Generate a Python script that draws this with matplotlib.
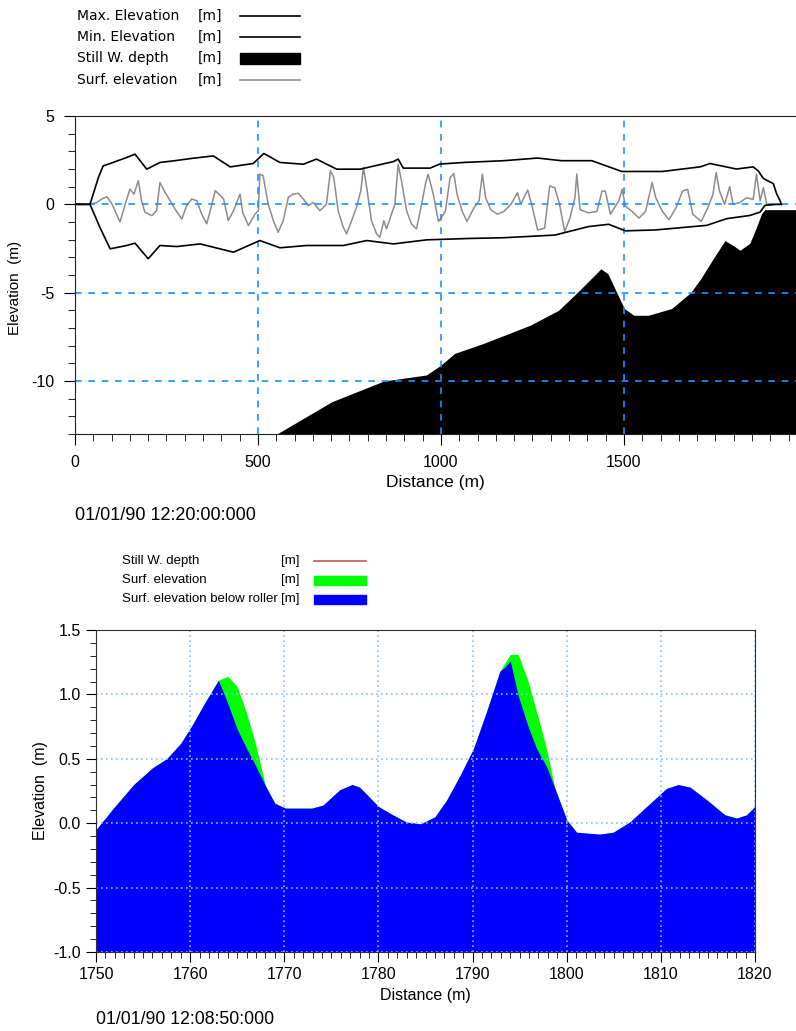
import matplotlib
matplotlib.use("Agg")
import matplotlib.pyplot as plt
from matplotlib.lines import Line2D
from matplotlib.patches import Rectangle
from matplotlib.ticker import MultipleLocator, FormatStrFormatter

plt.rcParams['font.family'] = ['Liberation Sans', 'DejaVu Sans']
plt.rcParams['axes.unicode_minus'] = False

# ---- top panel data ----
bed_x = [0, 535, 702, 844, 960, 1000, 1037, 1115, 1244, 1321, 1372, 1437, 1456,
         1501, 1527, 1566, 1630, 1682, 1710, 1740, 1776, 1800, 1817, 1844, 1862,
         1876, 1885, 1975]
bed_y = [-13.2, -13.2, -11.17, -10.0, -9.66, -9.1, -8.44, -7.88, -6.84, -6.0, -5.0, -3.65, -3.93,
         -5.9, -6.28, -6.28, -5.9, -5.0, -4.2, -3.2, -2.05, -2.35, -2.6, -2.2, -1.29,
         -0.52, -0.3, -0.3]

max_x = [0, 41, 64, 77, 96, 141, 164, 196, 232, 269, 323, 378, 424, 487, 516, 560,
         624, 660, 715, 779, 870, 883, 897, 970, 997, 1062, 1172, 1264, 1329, 1412,
         1494, 1605, 1708, 1735, 1807, 1853, 1867, 1881, 1908, 1917, 1926, 1930]
max_y = [0, 0, 1.52, 2.18, 2.31, 2.65, 2.84, 1.99, 2.37, 2.46, 2.61, 2.74, 2.12, 2.31, 2.88, 2.37,
         2.27, 2.56, 1.99, 1.99, 2.42, 2.56, 2.05, 2.05, 2.28, 2.37, 2.47, 2.62, 2.47, 2.47,
         1.86, 1.86, 2.12, 2.31, 2.0, 2.12, 1.89, 1.46, 1.17, 0.6, 0.23, 0]

min_x = [0, 41, 68, 96, 141, 164, 200, 232, 278, 342, 433, 505, 560, 633, 733, 797,
         870, 961, 1081, 1172, 1311, 1403, 1458, 1504, 1586, 1726, 1781, 1844, 1872,
         1885, 1917, 1930]
min_y = [0, 0, -1.3, -2.52, -2.33, -2.2, -3.08, -2.33, -2.39, -2.24, -2.71, -2.05, -2.46, -2.33, -2.33, -2.05,
         -2.24, -2.01, -1.93, -1.89, -1.74, -1.26, -1.13, -1.5, -1.45, -1.19, -0.81, -0.63, -0.44,
         -0.06, 0, 0]

surf_x = [0, 41, 59, 73, 87, 100, 123, 137, 150, 161,
          173, 182, 191, 210, 223, 232, 246, 260, 273, 292,
          305, 319, 333, 346, 360, 374, 383, 397, 406, 419,
          433, 451, 458, 474, 492, 501, 505, 514, 528, 542,
          555, 569, 583, 596, 610, 624, 637, 651, 669, 687,
          698, 707, 719, 733, 742, 756, 769, 781, 788, 797,
          810, 824, 833, 844, 851, 865, 874, 883, 892, 906,
          919, 933, 947, 958, 965, 979, 993, 1012, 1025, 1035,
          1044, 1058, 1071, 1090, 1104, 1113, 1122, 1136, 1154, 1172,
          1191, 1209, 1218, 1237, 1250, 1264, 1283, 1297, 1311, 1324,
          1338, 1352, 1366, 1371, 1380, 1403, 1426, 1440, 1449, 1463,
          1486, 1495, 1504, 1522, 1541, 1559, 1577, 1587, 1605, 1623,
          1642, 1660, 1674, 1688, 1711, 1729, 1743, 1752, 1761, 1775,
          1789, 1798, 1816, 1835, 1853, 1862, 1872, 1881, 1890, 1917,
          1930]
surf_y = [0, 0, 0.1, 0.3, 0.43, 0.06, -1.0, 0, 0.86, 0.58,
          1.33, 0.2, -0.45, -0.64, -0.36, 1.24, 0.68, 0.2, -0.26, -0.83,
          -0.08, 0.3, 0.2, -0.55, -1.1, 0, 0.77, 0.5, 0.3, -0.92,
          -0.36, 0.58, -0.45, -1.2, -0.55, -0.36, 1.71, 1.62, 0, -0.92,
          -1.58, -0.92, 0.4, 0.58, 0.62, 0.3, -0.08, 0.11, -0.36, 0,
          1.9, 1.52, -0.36, -1.3, -1.67, -0.92, -0.17, 0.77, 2.09, 0.96,
          -0.92, -1.67, -1.86, -0.92, -1.39, -0.55, 0, 2.27, 1.33, -0.36,
          -1.1, -1.39, 0.0, 1.2, 1.71, 0.56, -0.97, -0.4, 1.52, 1.74,
          0.56, -0.4, -0.97, -0.2, 0.2, 1.71, 0.37, -0.3, -0.56, -0.4,
          0, 0.66, 0, 0.81, -0.2, -1.45, -1.35, 1.04, 0.94, 0,
          -1.55, -0.78, 0.37, 1.71, -0.3, -0.48, -0.4, 0.75, 0.75, -0.56,
          0.2, 0.85, -0.1, -0.4, -0.78, -0.4, 1.23, 0.37, -0.4, -0.87,
          -0.2, 0.75, 0.85, -0.56, -0.97, -0.2, 0.56, 1.8, 0.75, 0,
          1.0, 0, 0.1, 0.37, 0.28, 1.71, 0.2, 0.94, 0, 0,
          0]

# ---- bottom panel data ----
zoom_x = [1750, 1752, 1754, 1756, 1757.5, 1759, 1760.2, 1761.6, 1763, 1764,
          1765, 1766, 1767, 1768, 1769, 1770.1, 1772.9, 1774.1, 1775.9, 1777.2,
          1778, 1780, 1781.2, 1783, 1784.5, 1786, 1787.25, 1788.7, 1790.1, 1791.5,
          1792.9, 1793.4, 1794, 1794.85, 1795.9, 1796.8, 1797.85, 1798.75, 1800, 1801.05,
          1803.5, 1804.95, 1806.7, 1808.5, 1810.6, 1811.85, 1813.1, 1814.9, 1816.8, 1818.05,
          1819.1, 1820]
roller_y = [-0.05, 0.13, 0.30, 0.43, 0.50, 0.62, 0.76, 0.94, 1.11, 0.93,
            0.73, 0.58, 0.44, 0.29, 0.155, 0.117, 0.117, 0.14, 0.26, 0.30,
            0.28, 0.13, 0.078, 0.008, -0.005, 0.05, 0.18, 0.375, 0.58, 0.87,
            1.18, 1.21, 1.26, 0.99, 0.75, 0.58, 0.44, 0.27, 0.026, -0.07,
            -0.085, -0.07, 0.01, 0.13, 0.27, 0.30, 0.28, 0.18, 0.065, 0.04,
            0.065, 0.13]
surface_y = [-0.05, 0.13, 0.30, 0.43, 0.50, 0.62, 0.76, 0.94, 1.11, 1.14,
             1.06, 0.855, 0.60, 0.29, 0.155, 0.117, 0.117, 0.14, 0.26, 0.30,
             0.28, 0.13, 0.078, 0.008, -0.005, 0.05, 0.18, 0.375, 0.58, 0.87,
             1.18, 1.24, 1.31, 1.31, 1.10, 0.867, 0.58, 0.27, 0.026, -0.07,
             -0.085, -0.07, 0.01, 0.13, 0.27, 0.30, 0.28, 0.18, 0.065, 0.04,
             0.065, 0.13]

W, H = 796, 1031
fig = plt.figure(figsize=(W / 100, H / 100), dpi=100)


def fx(px):
    return px / W


def fy(py):
    return 1 - py / H


# ================= top panel =================
ax1 = fig.add_axes([fx(75), fy(434), 1 - fx(75), fy(116) - fy(434)])
ax1.fill_between(bed_x, -13.5, bed_y, color='black', lw=0, zorder=1)
ax1.plot(surf_x, surf_y, color='#8c8c8c', lw=1.1, zorder=2)
ax1.plot(max_x, max_y, color='black', lw=1.2, zorder=3)
ax1.plot(min_x, min_y, color='black', lw=1.2, zorder=3)
ax1.set_xlim(0, 1970)
ax1.set_ylim(-13, 5)
ax1.xaxis.set_major_locator(MultipleLocator(500))
ax1.xaxis.set_minor_locator(MultipleLocator(50))
ax1.yaxis.set_major_locator(MultipleLocator(5))
ax1.yaxis.set_minor_locator(MultipleLocator(1))
ax1.set_axisbelow(False)
ax1.grid(True, which='major', color='#1e8fff', ls=(0, (4, 4)), lw=1.2)
ax1.spines['right'].set_visible(False)
for s in ['top', 'left', 'bottom']:
    ax1.spines[s].set_color('#202020')
    ax1.spines[s].set_zorder(5)
ax1.tick_params(which='major', direction='out', length=8, labelsize=11.5, pad=7)
ax1.tick_params(which='minor', direction='out', length=5)
ax1.set_xlabel('Distance (m)', fontsize=12.5, labelpad=4)
ax1.set_ylabel('Elevation  (m)', fontsize=11)
ax1.yaxis.set_label_coords(-0.073, 0.46)
fig.text(fx(75), fy(516), '01/01/90 12:20:00:000', fontsize=13, va='center', ha='left')

# top legend
leg1 = [('Max. Elevation', 'line', 'black'),
        ('Min. Elevation', 'line', 'black'),
        ('Still W. depth', 'bar', 'black'),
        ('Surf. elevation', 'line', '#8c8c8c')]
rows1 = [16, 37, 58, 80]
for (lab, kind, col), ry in zip(leg1, rows1):
    fig.text(fx(77), fy(ry), lab, fontsize=10, va='center', family='DejaVu Sans')
    fig.text(fx(198), fy(ry), '[m]', fontsize=10, va='center', family='DejaVu Sans')
    if kind == 'line':
        fig.add_artist(Line2D([fx(240), fx(300)], [fy(ry), fy(ry)], color=col, lw=1.2,
                              transform=fig.transFigure))
    else:
        fig.add_artist(Rectangle((fx(240), fy(ry + 6)), fx(300) - fx(240), fy(ry - 5) - fy(ry + 6),
                                 color=col, transform=fig.transFigure))

# ================= bottom panel =================
ax2 = fig.add_axes([fx(96), fy(952), fx(755) - fx(96), fy(630) - fy(952)])
ax2.fill_between(zoom_x, -1.1, surface_y, color='#00ff00', lw=0, zorder=1)
ax2.fill_between(zoom_x, -1.1, roller_y, color='#0000ff', lw=0, zorder=1.1)
ax2.plot(bed_x, bed_y, color='#c05858', lw=1)
ax2.set_xlim(1750, 1820)
ax2.set_ylim(-1.0, 1.5)
ax2.xaxis.set_major_locator(MultipleLocator(10))
ax2.xaxis.set_minor_locator(MultipleLocator(1))
ax2.yaxis.set_major_locator(MultipleLocator(0.5))
ax2.yaxis.set_minor_locator(MultipleLocator(0.1))
ax2.yaxis.set_major_formatter(FormatStrFormatter('%.1f'))
ax2.set_axisbelow(False)
ax2.grid(True, which='major', color='#86c2f8', ls=(0, (1, 2)), lw=1.2)
for s in ax2.spines.values():
    s.set_color('#303030')
    s.set_zorder(5)
ax2.tick_params(which='major', direction='out', length=7, labelsize=11.5, pad=4)
ax2.tick_params(which='minor', direction='out', length=4)
ax2.set_xlabel('Distance (m)', fontsize=11.5, labelpad=4)
ax2.set_ylabel('Elevation  (m)', fontsize=11.5)
fig.text(fx(96), fy(1020), '01/01/90 12:08:50:000', fontsize=12.7, va='center', ha='left')

# bottom legend
leg2 = [('Still W. depth', 'line', '#c05858'),
        ('Surf. elevation', 'bar', '#00ff00'),
        ('Surf. elevation below roller', 'bar', '#0000ff')]
rows2 = [561, 580, 599]
for (lab, kind, col), ry in zip(leg2, rows2):
    fig.text(fx(122), fy(ry), lab, fontsize=9.5, va='center')
    fig.text(fx(281), fy(ry), '[m]', fontsize=9.5, va='center')
    if kind == 'line':
        fig.add_artist(Line2D([fx(314), fx(366)], [fy(ry), fy(ry)], color=col, lw=1.2,
                              transform=fig.transFigure))
    else:
        fig.add_artist(Rectangle((fx(314), fy(ry + 5)), fx(366) - fx(314), fy(ry - 4) - fy(ry + 5),
                                 color=col, transform=fig.transFigure))

fig.savefig('out.png', dpi=100)
